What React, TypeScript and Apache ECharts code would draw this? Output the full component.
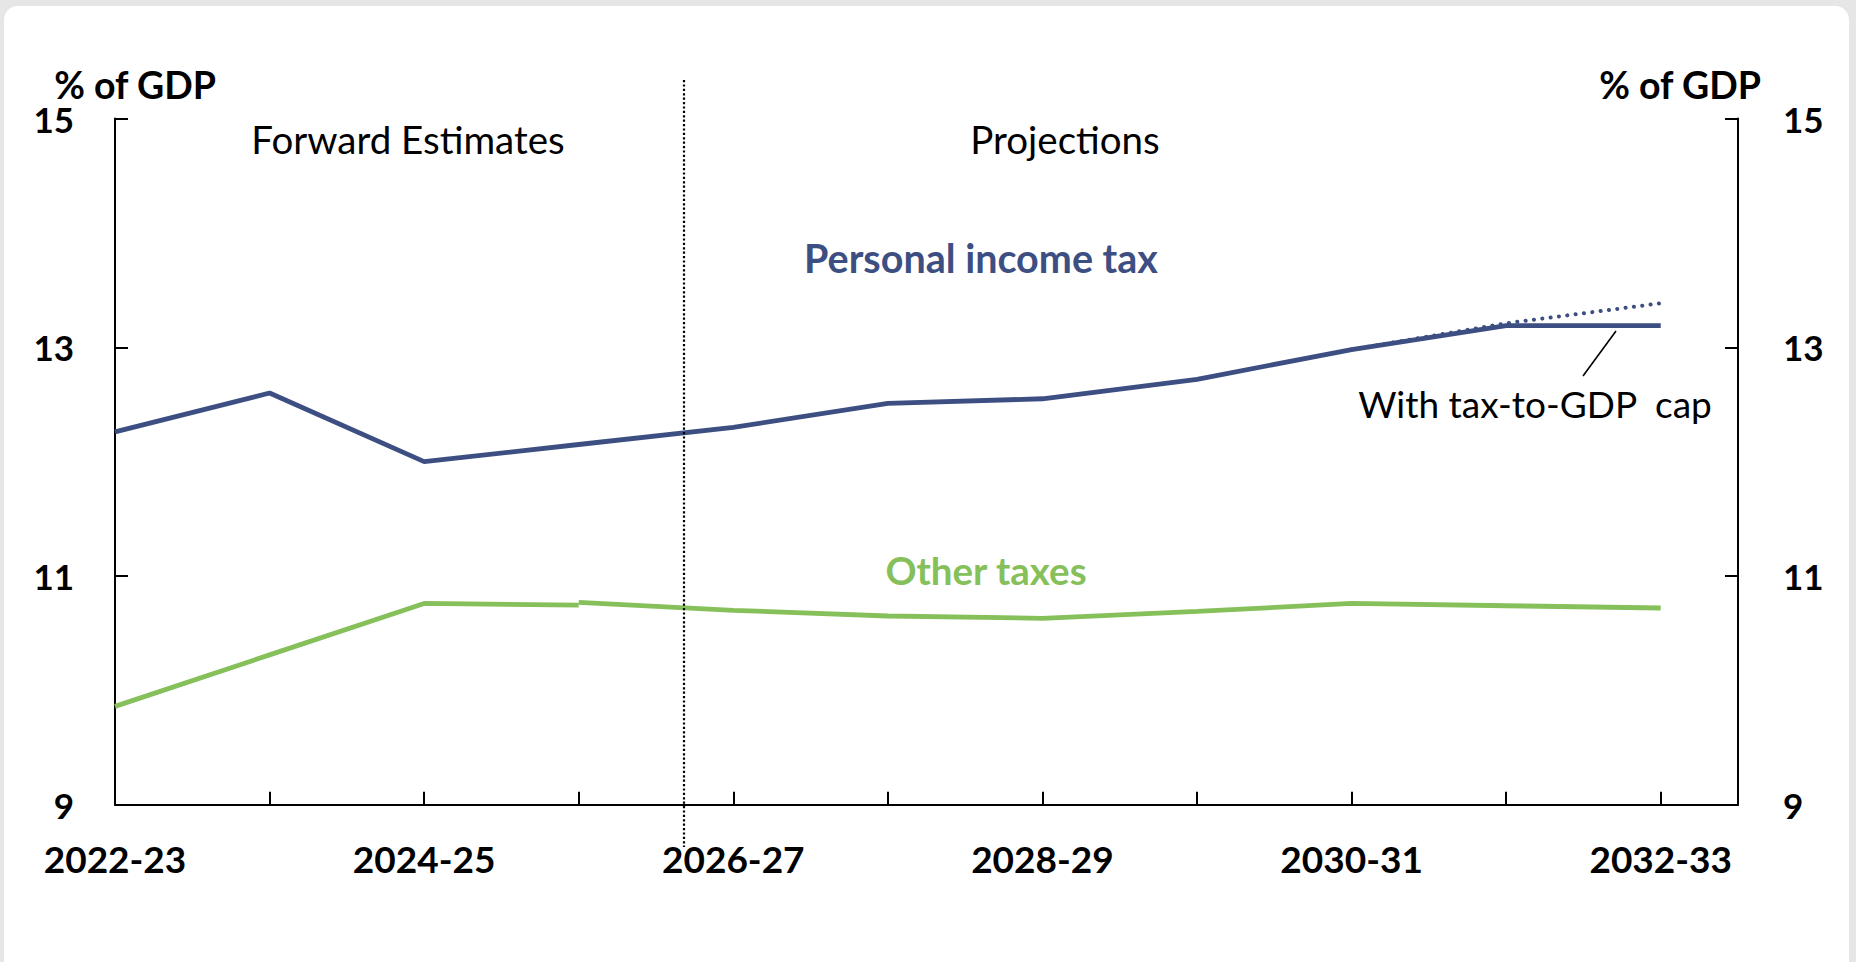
import React, { useEffect, useRef } from "react";
import * as echarts from "echarts";

const categories = [
  "2022-23", "2023-24", "2024-25", "2025-26", "2026-27", "2027-28",
  "2028-29", "2029-30", "2030-31", "2031-32", "2032-33",
];
// Personal income tax, with tax-to-GDP cap (indices 0..10)
const personalIncomeTax = [12.26, 12.6, 12.0, 12.15, 12.3, 12.51, 12.55, 12.72, 12.98, 13.19, 13.19];
// Personal income tax without the cap (indices 8..10)
const pitNoCapStart = 8;
const pitNoCap = [12.98, 13.21, 13.385];
// Other taxes, forward estimates (indices 0..3)
const otherTaxesFwd = [9.86, 10.31, 10.76, 10.745];
// Other taxes, projections (indices 3..10)
const otherProjStart = 3;
const otherTaxesProj = [10.77, 10.7, 10.65, 10.63, 10.69, 10.76, 10.74, 10.72];
const yTicks = [9, 11, 13, 15];
const xTickIdx = [0, 1, 2, 3, 4, 5, 6, 7, 8, 9, 10];
const xLabelIdx = [0, 2, 4, 6, 8, 10];
const dividerAt = 3.68;

const BLUE = "#3D4F82";
const GREEN = "#86C05A";
const FONT = "Lato";

export default function App() {
  const ref = useRef<HTMLDivElement>(null);

  useEffect(() => {
    if (!ref.current) return;
    const chart = echarts.init(ref.current, null, { renderer: "svg" });

    const axisLine = { show: true, onZero: false, lineStyle: { color: "#000", width: 2 } };
    const tick = (vals: number[]) => ({
      show: true,
      inside: true,
      length: 13,
      lineStyle: { color: "#000", width: 2 },
      customValues: vals,
    });
    const labelStyle = { fontFamily: FONT, fontWeight: "bold" as const, fontSize: 35, color: "#000" };

    const toPairs = (arr: number[], start: number) => arr.map((v, i) => [start + i, v]);

    chart.setOption({
      animation: false,
      grid: { left: 115, right: 118, top: 118.6, bottom: 157.3 },
      xAxis: {
        type: "value",
        min: 0,
        max: 10.5,
        axisLine,
        axisTick: tick(xTickIdx),
        axisLabel: {
          ...labelStyle,
          fontSize: 37,
          customValues: xLabelIdx,
          margin: 35,
          formatter: (v: number) => categories[Math.round(v)] ?? "",
        },
        splitLine: { show: false },
      },
      yAxis: [
        {
          type: "value",
          position: "left",
          min: 9,
          max: 15,
          axisLine,
          axisTick: tick(yTicks),
          axisLabel: { ...labelStyle, lineHeight: 28, customValues: yTicks, margin: 41 },
          splitLine: { show: false },
        },
        {
          type: "value",
          position: "right",
          min: 9,
          max: 15,
          axisLine,
          axisTick: tick(yTicks),
          axisLabel: { ...labelStyle, lineHeight: 28, customValues: yTicks, margin: 45 },
          splitLine: { show: false },
        },
      ],
      series: [
        {
          name: "Personal income tax (no cap)",
          type: "line",
          data: toPairs(pitNoCap, pitNoCapStart),
          showSymbol: false,
          symbol: "none",
          z: 1,
          lineStyle: { color: BLUE, width: 4, type: [0.1, 8.3], cap: "round" },
        },
        {
          name: "Personal income tax",
          type: "line",
          data: toPairs(personalIncomeTax, 0),
          showSymbol: false,
          symbol: "none",
          z: 3,
          lineStyle: { color: BLUE, width: 4.8 },
        },
        {
          name: "Other taxes",
          type: "line",
          data: toPairs(otherTaxesFwd, 0),
          showSymbol: false,
          symbol: "none",
          z: 3,
          lineStyle: { color: GREEN, width: 4.8 },
        },
        {
          name: "Other taxes projections",
          type: "line",
          data: toPairs(otherTaxesProj, otherProjStart),
          showSymbol: false,
          symbol: "none",
          z: 3,
          lineStyle: { color: GREEN, width: 4.8 },
        },
      ],
    });

    const dx = chart.convertToPixel({ xAxisIndex: 0 }, dividerAt) as number;

    const txt = (
      text: string, x: number, y: number, size: number, bold: boolean, fill: string, lineHeight?: number
    ) => ({
      type: "text",
      x,
      y,
      style: {
        text,
        fill,
        fontFamily: FONT,
        fontSize: size,
        fontWeight: bold ? "bold" : "normal",
        align: "center",
        verticalAlign: "middle",
        lineHeight: lineHeight ?? size,
      },
    });

    chart.setOption({
      graphic: [
        {
          type: "line",
          shape: { x1: Math.round(dx), y1: 80, x2: Math.round(dx), y2: 847 },
          style: { stroke: "#000", lineWidth: 2.2, lineDash: [2.2, 2.2] },
          z: 5,
        },
        {
          type: "line",
          shape: { x1: 1616, y1: 331, x2: 1583, y2: 376 },
          style: { stroke: "#000", lineWidth: 1.6 },
          z: 5,
        },
        txt("% of GDP", 135, 84, 37.5, true, "#000", 30),
        txt("% of GDP", 1680, 84, 37.5, true, "#000", 30),
        txt("Forward Estimates", 408, 139, 38.5, false, "#000"),
        txt("Projections", 1065, 139, 38.5, false, "#000"),
        txt("Personal income tax", 981, 257, 39.5, true, BLUE),
        txt("Other taxes", 986, 570, 38.5, true, GREEN),
        txt("With tax-to-GDP  cap", 1535, 403, 37, false, "#000"),
      ],
    });

    return () => chart.dispose();
  }, []);

  return (
    <div style={{ position: "fixed", left: 0, top: 0, width: 1856, height: 962, background: "#e6e6e6", overflow: "hidden" }}>
      <div
        style={{
          position: "absolute",
          left: 4,
          top: 6,
          width: 1845,
          height: 980,
          background: "#fff",
          borderRadius: 14,
        }}
      />
      <div ref={ref} style={{ position: "absolute", left: 0, top: 0, width: 1856, height: 962 }} />
    </div>
  );
}
